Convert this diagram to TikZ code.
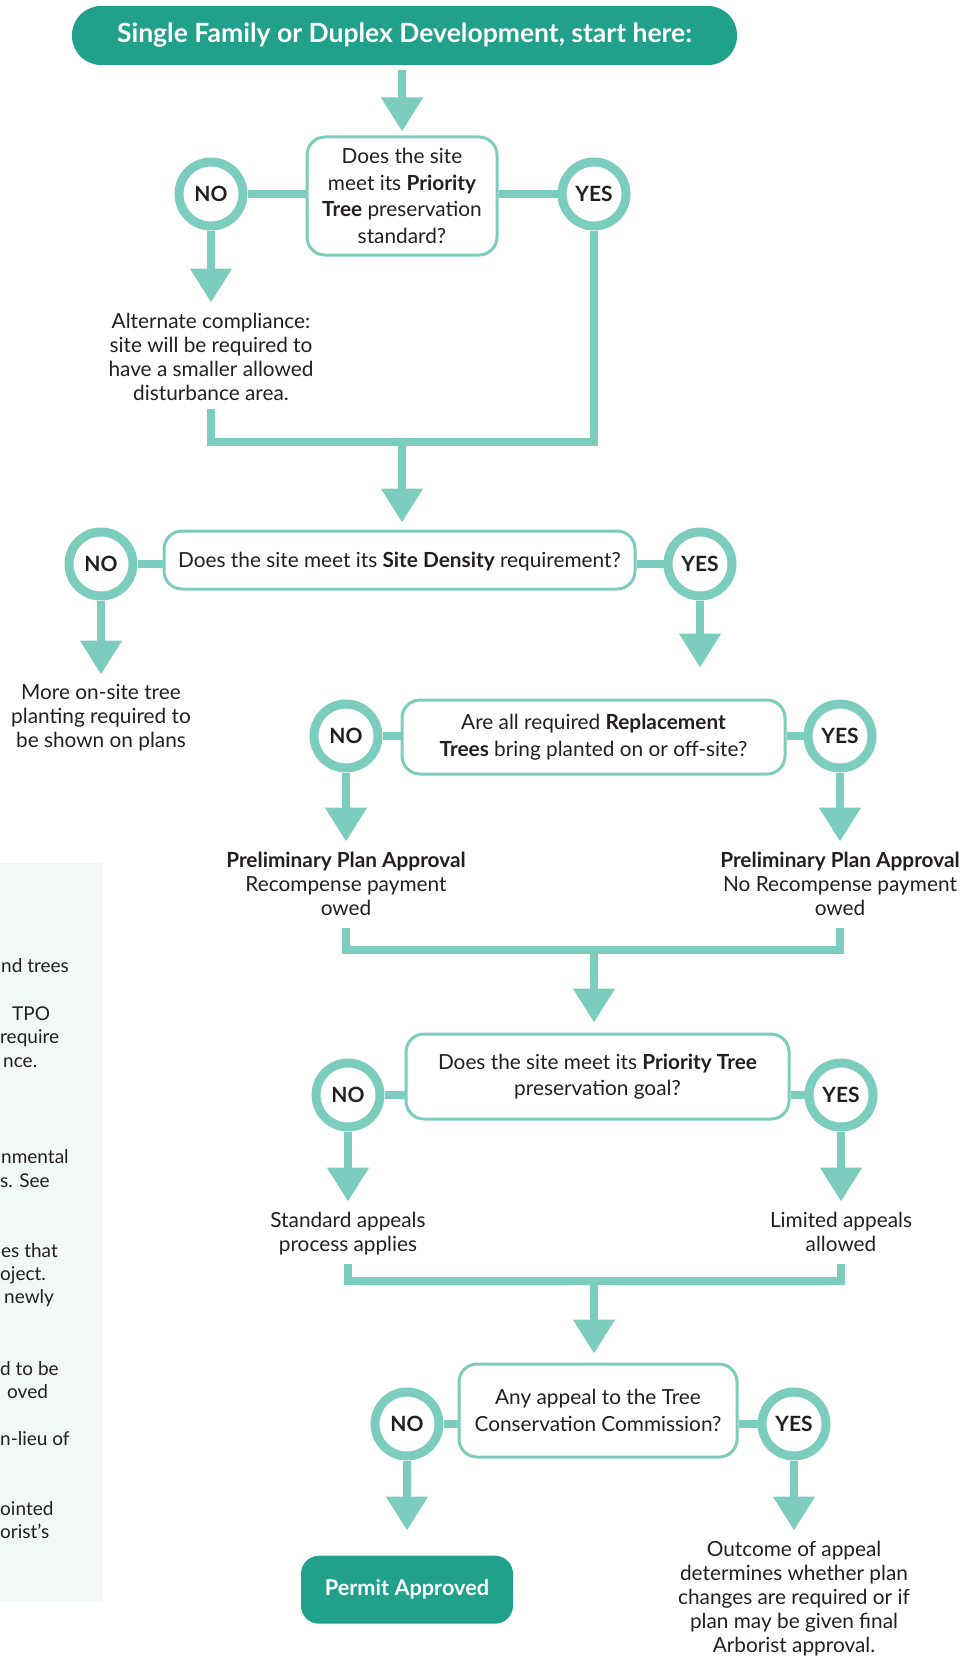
\documentclass[tikz,border=0pt]{standalone}
\usepackage{fontspec}
\setmainfont{Lato}
\usepackage{tikz}
\usetikzlibrary{arrows.meta, positioning}
\usepackage{xcolor}
\definecolor{mint}{HTML}{7DCDBF}
\definecolor{pine}{HTML}{21A08B}
\definecolor{ink}{HTML}{231F20}
\definecolor{panel}{HTML}{F2F7F7}

\begin{document}
\begin{tikzpicture}[
    x=1pt, y=-1pt,
    font=\fontsize{20.8}{24}\selectfont,
    text=ink,
    question/.style={draw=mint, line width=3pt, rounded corners=18pt, fill=white, align=center, inner sep=0pt, font=\fontsize{20.8}{26.5}\selectfont},
    answer/.style={draw=mint, line width=9pt, circle, fill=white, minimum size=64pt, inner sep=0pt, font=\fontsize{21}{24}\selectfont\bfseries},
    result/.style={align=center, inner sep=0pt},
    goal/.style={fill=pine, text=white, rounded corners=18pt, align=center, font=\fontsize{21.7}{24}\selectfont\bfseries},
    link/.style={draw=mint, line width=8pt},
    arrow/.style={link, -{Triangle[width=40pt, length=34pt]}},
    cut/.style={anchor=base west, inner sep=0pt, font=\fontsize{19}{24}\selectfont}
]
\useasboundingbox (0,0) rectangle (968,1656);

% Seitenleiste (abgeschnitten)
\fill[panel] (0,863) rectangle (103,1602);
\node[cut] (side1) at (1,972) {nd trees};
\node[cut] (side2) at (12,1020) {TPO};
\node[cut] (side3) at (0,1043) {require};
\node[cut] (side4) at (3,1067) {nce.};
\node[cut] (side5) at (1,1163) {nmental};
\node[cut] (side6) at (0,1187) {s. See};
\node[cut] (side7) at (1,1257) {es that};
\node[cut] (side8) at (0,1280) {oject.};
\node[cut] (side9) at (4,1303) {newly};
\node[cut] (side10) at (0,1375) {d to be};
\node[cut] (side11) at (7,1398) {oved};
\node[cut] (side12) at (0,1445) {n-lieu of};
\node[cut] (side13) at (0,1515) {ointed};
\node[cut] (side14) at (0,1538) {orist’s};

% Start
\node[goal, rounded corners=29pt, minimum width=665pt, minimum height=59pt, font=\fontsize{26.5}{30}\selectfont\bfseries] (start) at (404.5,35.5) {Single Family or Duplex Development, start here:};

% Frage 1
\node[question, minimum width=190pt, minimum height=118pt] (q1) at (402,196) {Does the site\\meet its \textbf{Priority}\\\textbf{Tree} preservation\\standard?};
\node[answer] (no1) at (211,194) {NO};
\node[answer] (yes1) at (594,194) {YES};
\node[result, below=82pt of no1] (alt1) {Alternate compliance:\\site will be required to\\have a smaller allowed\\disturbance area.};

% Frage 2
\node[question, minimum width=471pt, minimum height=58pt, text depth=0pt] (q2) at (399.5,560) {Does the site meet its \textbf{Site Density} requirement?};
\node[answer] (no2) at (101,564) {NO};
\node[answer] (yes2) at (700,564) {YES};
\node[result, below=84pt of no2] (more2) {More on-site tree\\planting required to\\be shown on plans};

% Frage 3
\node[question, minimum width=383pt, minimum height=74pt] (q3) at (593.5,737) {Are all required \textbf{Replacement}\\\textbf{Trees} bring planted on or off-site?};
\node[answer] (no3) at (346,736) {NO};
\node[answer] (yes3) at (840,736) {YES};
\node[result, below=79pt of no3] (owed3) {\textbf{Preliminary Plan Approval}\\Recompense payment\\owed};
\node[result, below=79pt of yes3] (free3) {\textbf{Preliminary Plan Approval}\\No Recompense payment\\owed};

% Frage 4
\node[question, minimum width=383pt, minimum height=85pt] (q4) at (597.5,1076.5) {Does the site meet its \textbf{Priority Tree}\\preservation goal?};
\node[answer] (no4) at (348,1095) {NO};
\node[answer] (yes4) at (841,1095) {YES};
\node[result, below=80pt of no4] (std4) {Standard appeals\\process applies};
\node[result, below=80pt of yes4] (lim4) {Limited appeals\\allowed};

% Frage 5
\node[question, minimum width=278pt, minimum height=93pt] (q5) at (598,1410.5) {Any appeal to the Tree\\Conservation Commission?};
\node[answer] (no5) at (407,1424) {NO};
\node[answer] (yes5) at (794,1424) {YES};
\node[goal, minimum width=212pt, minimum height=68pt, below=95pt of no5] (permit) {Permit Approved};
\node[result, below=80pt of yes5] (outcome5) {Outcome of appeal\\determines whether plan\\changes are required or if\\plan may be given final\\Arborist approval.};

% Verbindungen NO/YES
\draw[link] (no1) -- (no1 -| q1.west);
\draw[link] (yes1) -- (yes1 -| q1.east);
\draw[link] (no2) -- (no2 -| q2.west);
\draw[link] (yes2) -- (yes2 -| q2.east);
\draw[link] (no3) -- (no3 -| q3.west);
\draw[link] (yes3) -- (yes3 -| q3.east);
\draw[link] (no4) -- (no4 -| q4.west);
\draw[link] (yes4) -- (yes4 -| q4.east);
\draw[link] (no5) -- (no5 -| q5.west);
\draw[link] (yes5) -- (yes5 -| q5.east);

% Pfeile
\draw[arrow, shorten <=5pt, shorten >=4pt] (start.south -| q1.north) -- (q1.north);
\draw[arrow, shorten >=10pt] (no1) -- (alt1);
\coordinate (m1) at (402,442);
\draw[link] ([yshift=-9pt]alt1.south) |- (m1 -| yes1) -- (yes1);
\draw[arrow, shorten >=7pt] (m1) -- (m1 |- q2.north);

\draw[arrow, shorten >=10pt] (no2) -- (more2);
\draw[arrow, shorten >=31pt] (yes2) -- (yes2 |- q3.north);

\draw[arrow, shorten >=10pt] (no3) -- (owed3);
\draw[arrow, shorten >=10pt] (yes3) -- (free3);
\coordinate (m2) at (594,950);
\draw[link] ([yshift=-12pt]owed3.south) |- (m2) -| ([yshift=-12pt]owed3.south -| free3);
\draw[arrow, shorten >=10pt] (m2) -- (m2 |- q4.north);

\draw[arrow, shorten >=10pt] (no4) -- (std4);
\draw[arrow, shorten >=10pt] (yes4) -- (lim4);
\coordinate (m3) at (594,1281);
\draw[link] ([yshift=-9pt]std4.south) |- (m3) -| ([yshift=-9pt]std4.south -| lim4);
\draw[arrow, shorten >=9pt] (m3) -- (m3 |- q5.north);

\draw[arrow, shorten >=25pt] (no5) -- (permit);
\draw[arrow, shorten >=10pt] (yes5) -- (outcome5);

\end{tikzpicture}
\end{document}
